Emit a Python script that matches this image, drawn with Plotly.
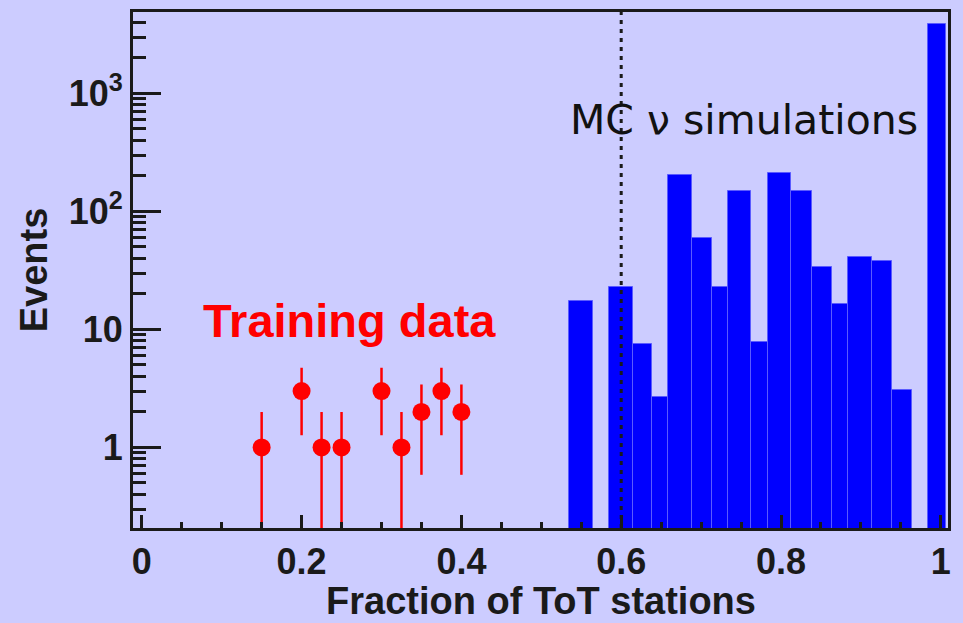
import numpy as np
import plotly.graph_objects as go

# Training data: fraction of ToT stations and event counts
data_x = [0.15, 0.2, 0.225, 0.25, 0.3, 0.325, 0.35, 0.375, 0.4]
data_n = [1, 3, 1, 1, 3, 1, 2, 3, 2]

# MC neutrino simulation histogram (bin low edge, bin high edge, weighted events)
mc_lo = [0.535, 0.585, 0.615, 0.639, 0.658, 0.688, 0.714, 0.734, 0.763,
         0.784, 0.813, 0.839, 0.864, 0.884, 0.914, 0.939, 0.984]
mc_hi = [0.565, 0.615, 0.639, 0.658, 0.688, 0.714, 0.734, 0.763, 0.784,
         0.813, 0.839, 0.864, 0.884, 0.914, 0.939, 0.964, 1.007]
mc_events = [17.5, 23, 7.5, 2.7, 205, 60, 23, 150, 7.8,
             210, 150, 34, 16.5, 41, 38, 3.05, 3900]

cut_value = 0.6

y_tickvals = [1, 10, 100, 1000]
y_ticktext = ["1", "10", "10<sup>2</sup>", "10<sup>3</sup>"]
x_tickvals = [0, 0.2, 0.4, 0.6, 0.8, 1.0]
x_ticktext = ["0", "0.2", "0.4", "0.6", "0.8", "1"]

BG = "#ccccff"
INK = "#1a1a1a"
SANS = "Liberation Sans, Arial, sans-serif"
TITLE_FONT = dict(family=SANS, size=38, color=INK, weight="bold")
TICK_FONT = dict(family=SANS, size=36, color=INK, weight="bold")

fig = go.Figure()

widths = [hi - lo for lo, hi in zip(mc_lo, mc_hi)]
fig.add_trace(go.Bar(
    x=mc_lo, y=mc_events, width=widths, offset=0,
    marker=dict(color="#0000ff", line=dict(color="#5a5aff", width=1)),
    showlegend=False,
))

err = np.sqrt(np.array(data_n, dtype=float))
fig.add_trace(go.Scatter(
    x=data_x, y=data_n, mode="markers",
    marker=dict(color="#ff0000", size=18, line=dict(width=0)),
    error_y=dict(type="data", array=err, symmetric=True,
                 color="#ff0000", thickness=2.5, width=0),
    showlegend=False,
))

# dashed cut line
fig.add_shape(type="line", xref="x", yref="paper",
              x0=cut_value, x1=cut_value, y0=0, y1=1,
              line=dict(color=INK, width=3, dash="4px,5px"), layer="above")

fig.add_annotation(text="MC \u03bd simulations", xref="paper", yref="paper",
                   x=0.7497, y=0.7907, xanchor="center", yanchor="middle",
                   showarrow=False,
                   font=dict(family="DejaVu Sans", size=41, color="#111111"))
fig.add_annotation(text="Training data", xref="paper", yref="paper",
                   x=0.2656, y=0.403, xanchor="center", yanchor="middle",
                   showarrow=False,
                   font=dict(family=SANS, size=47, color="#ff0000",
                             weight="bold"))

# x-axis title, placed below the tick labels
fig.add_annotation(text="Fraction of ToT stations", xref="paper", yref="paper",
                   x=0.5, y=-0.1415, xanchor="center", yanchor="middle",
                   showarrow=False, font=TITLE_FONT)

minor_y = [m * 10.0 ** d for d in range(-1, 4) for m in range(2, 10)]

fig.update_layout(
    width=963, height=623,
    paper_bgcolor=BG, plot_bgcolor=BG,
    margin=dict(l=133, r=15, t=12, b=95),
    bargap=0,
    xaxis=dict(
        range=[-0.011, 1.009], automargin=False,
        tickvals=x_tickvals, ticktext=x_ticktext,
        ticks="inside", ticklen=13, tickwidth=2.5, tickcolor=INK,
        minor=dict(dtick=0.05, tick0=0, ticks="inside", ticklen=6,
                   tickwidth=2.5, tickcolor=INK),
        showline=True, linecolor=INK, linewidth=3, mirror=True,
        showgrid=False, zeroline=False,
        tickfont=TICK_FONT, ticklabelstandoff=0,
    ),
    yaxis=dict(
        type="log", range=[-0.683, 3.690], automargin=False,
        tickvals=y_tickvals, ticktext=y_ticktext,
        ticks="inside", ticklen=28, tickwidth=2.5, tickcolor=INK,
        minor=dict(tickvals=minor_y, ticks="inside", ticklen=13,
                   tickwidth=2.5, tickcolor=INK),
        showline=True, linecolor=INK, linewidth=3, mirror=True,
        showgrid=False, zeroline=False,
        tickfont=TICK_FONT, ticklabelstandoff=0,
        title=dict(text="Events", font=TITLE_FONT, standoff=10),
    ),
)

fig.write_html("out.html")
